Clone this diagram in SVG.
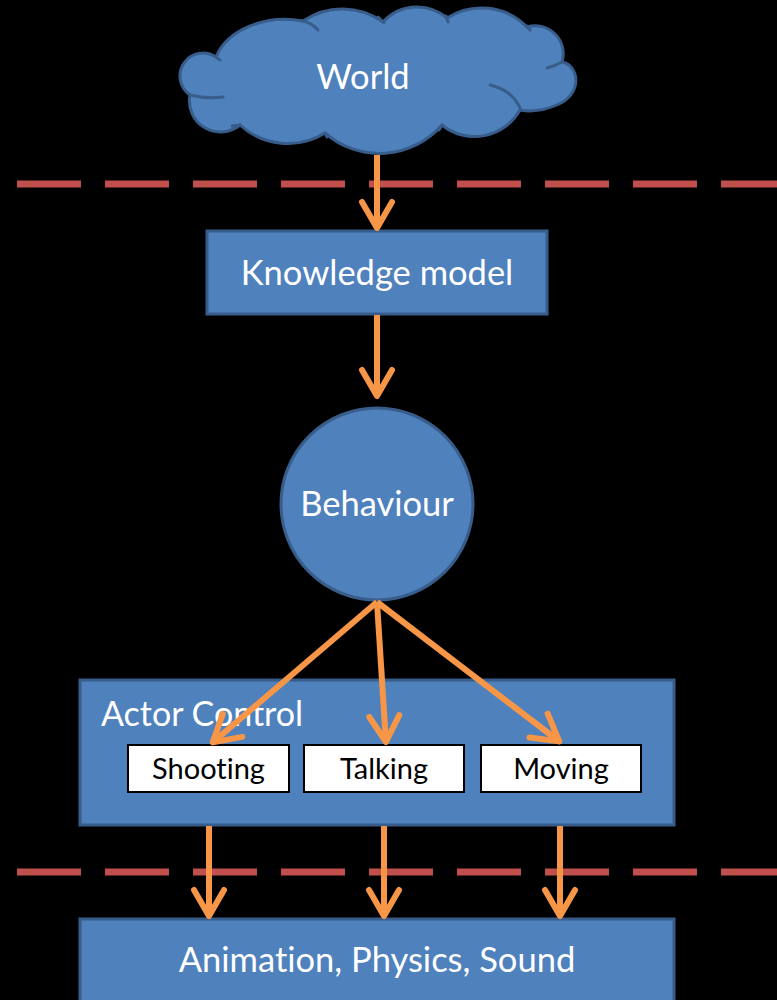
<svg xmlns="http://www.w3.org/2000/svg" width="777" height="1000" viewBox="0 0 777 1000">
  <style>
    .shape { fill: #4F81BD; stroke: #385D8A; stroke-width: 3; }
    .inner { fill: none; stroke: #385D8A; stroke-width: 3; stroke-linecap: round; }
    .sub { fill: #FFFFFF; stroke: #000000; stroke-width: 2; }
    text { font-family: Lato, "Open Sans", "Liberation Sans", sans-serif; font-variant-ligatures: none; }
    .lbl { fill: #FFFFFF; text-anchor: middle; font-size: 34.5px; }
    .lbl-start { fill: #FFFFFF; text-anchor: start; font-size: 34px; }
    .sublbl { fill: #000000; text-anchor: middle; font-size: 29px; }
    .sep { stroke: #C0504D; stroke-width: 7; stroke-dasharray: 64 24; fill: none; }
    .flow { stroke: #F79646; stroke-width: 6; fill: none; marker-end: url(#chevron); }
  </style>
  <defs>
    <marker id="chevron" markerUnits="userSpaceOnUse" markerWidth="60" markerHeight="60" refX="0" refY="0" orient="auto" overflow="visible">
      <path d="M-27,-15 L-1,0 L-27,15" fill="none" stroke="#F79646" stroke-width="6" stroke-linecap="round" stroke-linejoin="round"/>
    </marker>
  </defs>

  <rect width="777" height="1000" fill="#000000"/>

  <!-- layer separators -->
  <g id="separators">
    <line class="sep" x1="17" y1="184" x2="777" y2="184"/>
    <line class="sep" x1="17" y1="872" x2="777" y2="872"/>
  </g>

  <!-- World cloud -->
  <g id="world">
    <path class="shape" d="M190,95 A23,23 0 1 1 216,57 A72,53 0 0 1 303,21 A70,70 0 0 1 383,22 A46,46 0 0 1 447,18 A64,64 0 0 1 527,27 A28,28 0 0 1 562,62 C579,65 583,93 559,104 C546,110 531,112 520,110 A52,52 0 0 1 442,125 A83,83 0 0 1 325,133 A71,71 0 0 1 240,125 A31,31 0 0 1 190,95 Z"/>
    <path class="inner" d="M190,95 Q206,99 223,97"/>
    <path class="inner" d="M216,57 L220,60"/>
    <path class="inner" d="M303,21 Q312,23 318,30"/>
    <path class="inner" d="M378,17 L384,23"/>
    <path class="inner" d="M446,16 L448,22"/>
    <path class="inner" d="M527,26 L530,30"/>
    <path class="inner" d="M562,62 Q555,66 547,68"/>
    <path class="inner" d="M490,85 Q512,90 520,108"/>
    <path class="inner" d="M442,125 L439,130"/>
    <path class="inner" d="M325,133 L327,137"/>
    <path class="inner" d="M240,125 L232,126"/>
    <text class="lbl" x="363" y="89">World</text>
  </g>

  <!-- Knowledge model -->
  <g id="knowledge">
    <rect class="shape" x="207" y="231" width="340" height="83"/>
    <text class="lbl" x="377" y="285">Knowledge model</text>
  </g>

  <!-- Behaviour -->
  <g id="behaviour">
    <circle class="shape" cx="377" cy="504" r="96"/>
    <text class="lbl" x="377" y="516">Behaviour</text>
  </g>

  <!-- Actor Control with its sub-controllers -->
  <g id="actor-control">
    <rect class="shape" x="80" y="680" width="594" height="145"/>
    <text class="lbl-start" x="101" y="726">Actor Control</text>
  </g>
  <g id="shooting">
    <rect class="sub" x="128" y="745" width="161" height="47"/>
    <text class="sublbl" x="208.5" y="779">Shooting</text>
  </g>
  <g id="talking">
    <rect class="sub" x="304" y="745" width="160" height="47"/>
    <text class="sublbl" x="384" y="779">Talking</text>
  </g>
  <g id="moving">
    <rect class="sub" x="481" y="745" width="160" height="47"/>
    <text class="sublbl" x="561" y="779">Moving</text>
  </g>

  <!-- Animation, Physics, Sound -->
  <g id="engine">
    <rect class="shape" x="80" y="919" width="594" height="86"/>
    <text class="lbl" x="377" y="972">Animation, Physics, Sound</text>
  </g>

  <!-- connectors -->
  <g id="connectors">
    <line class="flow" x1="377" y1="155" x2="377" y2="229"/>
    <line class="flow" x1="377" y1="315" x2="377" y2="397"/>
    <line class="flow" x1="377" y1="602" x2="212" y2="743"/>
    <line class="flow" x1="377" y1="602" x2="386" y2="743"/>
    <line class="flow" x1="377" y1="602" x2="560" y2="742"/>
    <line class="flow" x1="209" y1="826" x2="209" y2="917"/>
    <line class="flow" x1="384" y1="826" x2="384" y2="917"/>
    <line class="flow" x1="560" y1="826" x2="560" y2="917"/>
  </g>
</svg>
